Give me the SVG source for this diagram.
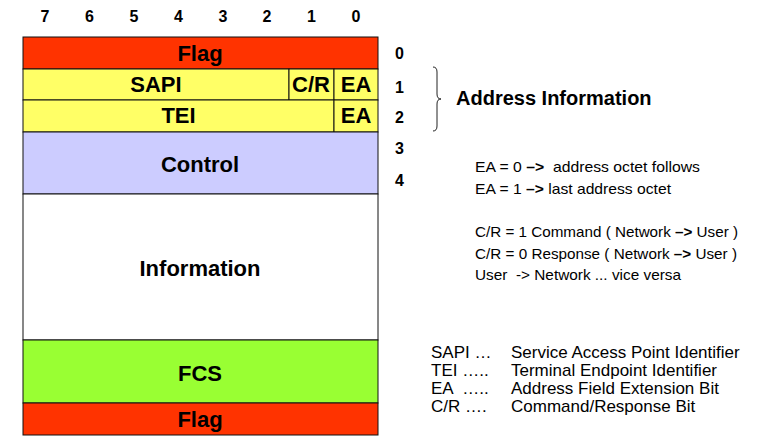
<svg xmlns="http://www.w3.org/2000/svg" width="763" height="436" viewBox="0 0 763 436">
<style>
.f{stroke:#111;stroke-width:1}
.lb{font-family:"Liberation Sans",Arial,sans-serif;font-weight:bold;font-size:22px;text-anchor:middle;fill:#000}
.num{font-family:"Liberation Sans",Arial,sans-serif;font-weight:bold;font-size:16px;fill:#000}
.nt{font-family:"Liberation Sans Narrow","Liberation Sans",Arial,sans-serif;font-size:15px;fill:#000}
.lg{font-family:"Liberation Sans",Arial,sans-serif;font-size:17px;fill:#000}
</style>
<rect width="763" height="436" fill="#fff"/>
<g id="bits" class="num" text-anchor="middle">
<text x="45" y="22">7</text><text x="89.5" y="22">6</text><text x="134" y="22">5</text><text x="178.5" y="22">4</text>
<text x="223" y="22">3</text><text x="267" y="22">2</text><text x="311.5" y="22">1</text><text x="356" y="22">0</text>
</g>
<g id="octets" class="num">
<text x="395" y="59">0</text><text x="395" y="92.5">1</text><text x="395" y="122.5">2</text><text x="395" y="154">3</text><text x="395" y="186">4</text>
</g>
<g id="flag1"><rect class="f" x="23" y="37" width="355" height="32" fill="#FF3300"/><text class="lb" x="200" y="61">Flag</text></g>
<g id="sapi"><rect class="f" x="23" y="69" width="266" height="31" fill="#FFFF66"/><text class="lb" x="156" y="92">SAPI</text></g>
<g id="cr"><rect class="f" x="289" y="69" width="45" height="31" fill="#FFFF66"/><text class="lb" x="311" y="92">C/R</text></g>
<g id="ea1"><rect class="f" x="334" y="69" width="44" height="31" fill="#FFFF66"/><text class="lb" x="356" y="92">EA</text></g>
<g id="tei"><rect class="f" x="23" y="100" width="311" height="32" fill="#FFFF66"/><text class="lb" x="178.5" y="123">TEI</text></g>
<g id="ea2"><rect class="f" x="334" y="100" width="44" height="32" fill="#FFFF66"/><text class="lb" x="356" y="123">EA</text></g>
<g id="control"><rect class="f" x="23" y="132" width="355" height="62" fill="#CCCCFF"/><text class="lb" x="200" y="171.5">Control</text></g>
<g id="information"><rect class="f" x="23" y="194" width="355" height="146" fill="#FFFFFF"/><text class="lb" x="200" y="275.5">Information</text></g>
<g id="fcs"><rect class="f" x="23" y="340" width="355" height="63" fill="#99FF33"/><text class="lb" x="200" y="380.5">FCS</text></g>
<g id="flag2"><rect class="f" x="23" y="403" width="355" height="32" fill="#FF3300"/><text class="lb" x="200" y="426.5">Flag</text></g>
<g id="connectors">
<path d="M433,67 Q437,67 437,72 L437,94 Q437,99 441,99 Q437,99 437,104 L437,126 Q437,131 433,131" fill="none" stroke="#222" stroke-width="1"/>
</g>
<g id="address-info"><text x="456" y="105" style="font-family:'Liberation Sans',Arial,sans-serif;font-weight:bold;font-size:20px">Address Information</text></g>
<g id="notes" class="nt">
<text x="475" y="172" textLength="225" lengthAdjust="spacingAndGlyphs" xml:space="preserve">EA = 0 <tspan font-weight="bold">–&gt;</tspan>  address octet follows</text>
<text x="475" y="194" textLength="196" lengthAdjust="spacingAndGlyphs">EA = 1 <tspan font-weight="bold">–&gt;</tspan> last address octet</text>
<text x="475" y="237" textLength="263" lengthAdjust="spacingAndGlyphs">C/R = 1 Command ( Network <tspan font-weight="bold">–&gt;</tspan> User )</text>
<text x="475" y="259" textLength="262" lengthAdjust="spacingAndGlyphs">C/R = 0 Response ( Network <tspan font-weight="bold">–&gt;</tspan> User )</text>
<text x="475" y="280" textLength="206" lengthAdjust="spacingAndGlyphs" xml:space="preserve">User  -&gt; Network ... vice versa</text>
</g>
<g id="legend" class="lg">
<text x="431" y="358">SAPI …</text><text x="511" y="358">Service Access Point Identifier</text>
<text x="431" y="376">TEI …..</text><text x="511" y="376">Terminal Endpoint Identifier</text>
<text x="431" y="394" xml:space="preserve">EA  …..</text><text x="511" y="394">Address Field Extension Bit</text>
<text x="431" y="412">C/R ….</text><text x="511" y="412">Command/Response Bit</text>
</g>
</svg>
